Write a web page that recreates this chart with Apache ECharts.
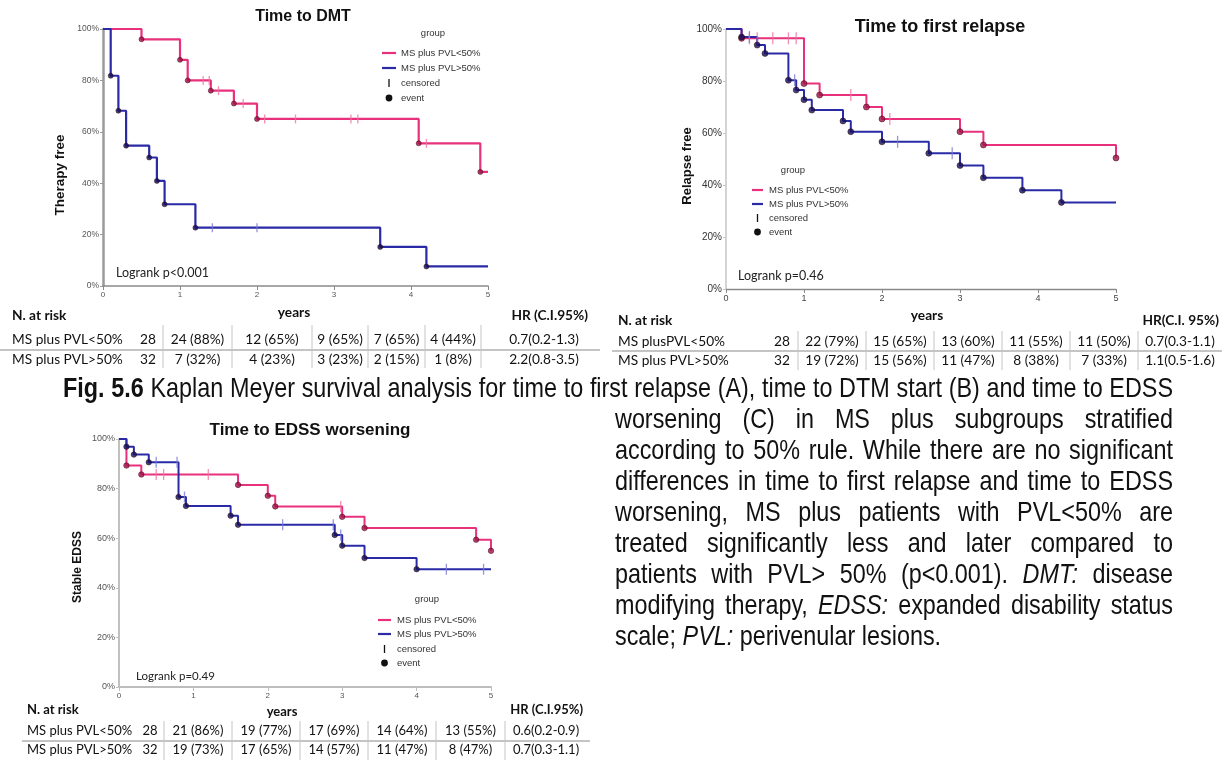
<!DOCTYPE html>
<html><head><meta charset="utf-8">
<script src="https://cdn.jsdelivr.net/npm/echarts@6/dist/echarts.min.js"></script>
<style>
html,body{margin:0;padding:0;background:#fff;}
#chart{position:absolute;left:0;top:0;width:1232px;height:760px;}
.cap{position:absolute;font-family:"Liberation Sans",Arial,sans-serif;color:#111;font-size:28.5px;transform:scaleX(0.82);transform-origin:0 0;}
.cap div{text-align:justify;text-align-last:justify;height:31px;line-height:31px;white-space:normal;}
.cap div.last{text-align-last:left;}
</style></head><body>
<div id="chart"></div>
<div class="cap" style="left:63px;top:371.5px;width:1353.7px;"><div><b>Fig. 5.6</b> Kaplan Meyer survival analysis for time to first relapse (A), time to DTM start (B) and time to EDSS</div></div>
<div class="cap" style="left:615px;top:402.5px;width:680.5px;">
<div>worsening (C) in MS plus subgroups stratified</div>
<div>according to 50% rule. While there are no significant</div>
<div>differences in time to first relapse and time to EDSS</div>
<div>worsening, MS plus patients with PVL&lt;50% are</div>
<div>treated significantly less and later compared to</div>
<div>patients with PVL&gt; 50% (p&lt;0.001). <i>DMT:</i> disease</div>
<div>modifying therapy, <i>EDSS:</i> expanded disability status</div>
<div class="last">scale; <i>PVL:</i> perivenular lesions.</div>
</div>
<script>
// ---------- DATA ----------
const groups = ['MS plus PVL<50%', 'MS plus PVL>50%'];
const xTickYears = [0, 1, 2, 3, 4, 5];

// A: Time to DMT
const dmtLowT = [0, 0.5, 1.0, 1.1, 1.4, 1.7, 2.0, 4.1, 4.9, 5.0];
const dmtLowS = [100, 96, 88, 80, 76, 71, 65, 55.5, 44.4, 44.4];
const dmtLowCens = [1.3, 1.38, 1.5, 1.82, 2.1, 2.5, 3.22, 3.31, 4.2];
const dmtHighT = [0, 0.1, 0.2, 0.3, 0.6, 0.7, 0.8, 1.2, 3.6, 4.2, 5.0];
const dmtHighS = [100, 81.8, 68.2, 54.6, 50, 40.9, 31.8, 22.7, 15.2, 7.6, 7.6];
const dmtHighCens = [1.42, 2.0];

// B: Time to first relapse
const relLowT = [0, 0.2, 1.0, 1.2, 1.8, 2.0, 3.0, 3.3, 5.0];
const relLowS = [100, 96.4, 79, 74.6, 70, 65.4, 60.5, 55.4, 50.4];
const relLowCens = [0.3, 0.4, 0.6, 0.8, 0.9, 1.6, 2.1];
const relHighT = [0, 0.2, 0.4, 0.5, 0.8, 0.9, 1.0, 1.1, 1.5, 1.6, 2.0, 2.6, 3.0, 3.3, 3.8, 4.3, 5.0];
const relHighS = [100, 96.9, 93.8, 90.6, 80.3, 76.5, 72.8, 68.8, 64.6, 60.5, 56.6, 52.2, 47.5, 42.8, 38, 33.3, 33.3];
const relHighCens = [0.3, 0.88, 2.2, 2.9];

// C: Time to EDSS worsening
const edssLowT = [0, 0.1, 0.3, 1.6, 2.0, 2.1, 3.0, 3.3, 4.8, 5.0];
const edssLowS = [100, 89.3, 85.7, 81.5, 77.1, 72.8, 68.6, 64.1, 59.4, 54.9];
const edssLowCens = [0.5, 0.6, 1.2, 2.98];
const edssHighT = [0, 0.1, 0.2, 0.4, 0.8, 0.9, 1.5, 1.6, 2.9, 3.0, 3.3, 4.0, 5.0];
const edssHighS = [100, 96.9, 93.7, 90.6, 76.6, 73, 69.1, 65.4, 61.3, 57, 52, 47.5, 47.5];
const edssHighCens = [0.5, 0.78, 0.88, 2.2, 2.88, 2.98, 4.4, 4.9];

// Risk tables
const riskA_n0 = ['28', '32'];
const riskA_low = ['24 (88%)', '12 (65%)', '9 (65%)', '7 (65%)', '4 (44%)'];
const riskA_high = ['7 (32%)', '4 (23%)', '3 (23%)', '2 (15%)', '1 (8%)'];
const riskA_hr = ['0.7(0.2-1.3)', '2.2(0.8-3.5)'];
const riskB_names = ['MS plusPVL<50%', 'MS plus PVL>50%'];
const riskB_n0 = ['28', '32'];
const riskB_low = ['22 (79%)', '15 (65%)', '13 (60%)', '11 (55%)', '11 (50%)'];
const riskB_high = ['19 (72%)', '15 (56%)', '11 (47%)', '8 (38%)', '7 (33%)'];
const riskB_hr = ['0.7(0.3-1.1)', '1.1(0.5-1.6)'];
const riskC_n0 = ['28', '32'];
const riskC_low = ['21 (86%)', '19 (77%)', '17 (69%)', '14 (64%)', '13 (55%)'];
const riskC_high = ['19 (73%)', '17 (65%)', '14 (57%)', '11 (47%)', '8 (47%)'];
const riskC_hr = ['0.6(0.2-0.9)', '0.7(0.3-1.1)'];

// ---------- STYLE ----------
const PINK = '#e8307c', BLUE = '#2a2aa6';
const PINK_C = '#ef74a4', BLUE_C = '#7b7bd6';
const PINK_D = '#a3124d', BLUE_D = '#12125c';
const SANS = 'Liberation Sans';
const TAB = 'Lato';

function survAt(t, s, x) { let v = s[0]; for (let i = 0; i < t.length; i++) if (t[i] <= x) v = s[i]; return v; }
function kmLine(name, t, s, color, idx, w) {
  return {type: 'line', name, xAxisIndex: idx, yAxisIndex: idx, step: 'end', symbol: 'none', clip: false, silent: true,
    data: t.map((x, i) => [x, s[i]]), lineStyle: {color, width: w}, z: 2};
}
function kmEvents(t, s, color, idx, size) {
  const d = [];
  for (let i = 1; i < t.length; i++) if (s[i] < s[i - 1]) d.push([t[i], s[i]]);
  return {type: 'scatter', xAxisIndex: idx, yAxisIndex: idx, data: d, symbol: 'circle', symbolSize: size, clip: false, silent: true,
    itemStyle: {color, borderColor: '#300', borderWidth: 0.6}, z: 5};
}
function kmCens(ct, t, s, color, idx, h) {
  return {type: 'scatter', xAxisIndex: idx, yAxisIndex: idx, data: ct.map(x => [x, survAt(t, s, x)]), symbol: 'rect',
    symbolSize: [1.3, h], clip: false, silent: true, itemStyle: {color}, z: 4};
}
function xAx(idx, c, w, fs, m, lc) {
  return {type: 'value', gridIndex: idx, min: 0, max: 5, interval: 1,
    axisLine: {show: true, onZero: false, lineStyle: {color: c, width: w}},
    axisTick: {show: true, length: 4, lineStyle: {color: c}},
    axisLabel: {fontSize: fs, color: lc, margin: m, fontFamily: SANS}, splitLine: {show: false}};
}
function yAx(idx, c, w, fs, lc) {
  return {type: 'value', gridIndex: idx, min: 0, max: 100, interval: 20,
    axisLine: {show: true, lineStyle: {color: c, width: w}},
    axisTick: {show: true, length: 3, lineStyle: {color: c}},
    axisLabel: {formatter: '{value}%', fontSize: fs, color: lc, margin: 4, fontFamily: SANS}, splitLine: {show: false}};
}
function T(x, y, text, o) {
  o = o || {};
  return {type: 'text', x, y, rotation: o.rot || 0, silent: true, z: 10,
    style: {text, align: o.align || 'left', verticalAlign: 'middle', fontSize: o.fs || 12,
      fontWeight: o.bold ? 'bold' : 'normal', fontFamily: o.ff || SANS, fill: o.fill || '#111'}};
}
function L(x1, y1, x2, y2, stroke, lw) {
  return {type: 'line', silent: true, z: 10, shape: {x1, y1, x2, y2}, style: {stroke, lineWidth: lw}};
}
function legend(cx, gy, lx0, lx1, tx, rows) {
  const mx = (lx0 + lx1) / 2, fs = 9.5, f = '#333';
  return [
    T(cx, gy, 'group', {align: 'center', fs, fill: f}),
    L(lx0, rows[0], lx1, rows[0], PINK, 2.2),
    L(lx0, rows[1], lx1, rows[1], BLUE, 2.2),
    L(mx, rows[2] - 4, mx, rows[2] + 4, '#111', 1.3),
    {type: 'circle', silent: true, z: 10, shape: {cx: mx, cy: rows[3], r: 3.4}, style: {fill: '#111'}},
    T(tx, rows[0], groups[0], {fs, fill: f}),
    T(tx, rows[1], groups[1], {fs, fill: f}),
    T(tx, rows[2], 'censored', {fs, fill: f}),
    T(tx, rows[3], 'event', {fs, fill: f})
  ];
}
function table(g) {
  const els = [], fs = g.fs, o = {ff: TAB, fs};
  els.push(T(g.nameX, g.headY, 'N. at risk', {ff: TAB, fs, bold: true}));
  els.push(T(g.yearsX, g.yearsY, 'years', {ff: TAB, fs, bold: true, align: 'center'}));
  els.push(T(g.hrRight, g.headY, g.hrHead, {ff: TAB, fs, bold: true, align: 'right'}));
  g.rows.forEach((row, r) => {
    const y = g.rowY[r];
    els.push(T(g.nameX, y, row.name, o));
    els.push(T(g.n0X, y, row.n0, Object.assign({align: 'center'}, o)));
    row.cells.forEach((c, i) => els.push(T((g.div[i] + g.div[i + 1]) / 2, y, c, Object.assign({align: 'center'}, o))));
    els.push(T(g.hrX, y, row.hr, Object.assign({align: 'center'}, o)));
  });
  els.push(L(g.x0, g.sepY, g.x1, g.sepY, '#b0b0b0', 1.5));
  g.div.forEach(d => els.push(L(d, g.divTop, d, g.divBot, '#c4c4c4', 1)));
  return els;
}

const graphics = [].concat(
  [
    T(303, 17, 'Time to DMT', {align: 'center', fs: 16, bold: true}),
    T(940, 27, 'Time to first relapse', {align: 'center', fs: 18, bold: true}),
    T(310, 430, 'Time to EDSS worsening', {align: 'center', fs: 17, bold: true}),
    T(60, 175, 'Therapy free', {align: 'center', fs: 13.5, bold: true, rot: Math.PI / 2}),
    T(687, 166, 'Relapse free', {align: 'center', fs: 13, bold: true, rot: Math.PI / 2}),
    T(78, 567, 'Stable EDSS', {align: 'center', fs: 12, bold: true, rot: Math.PI / 2}),
    T(116, 273, 'Logrank p<0.001', {ff: TAB, fs: 12.5, fill: '#222'}),
    T(738, 276, 'Logrank p=0.46', {ff: TAB, fs: 12.5, fill: '#222'}),
    T(136, 676, 'Logrank p=0.49', {ff: TAB, fs: 11.5, fill: '#222'})
  ],
  legend(433, 33, 382, 396, 401, [53, 68, 83, 98]),
  legend(793, 170, 752, 763, 769, [190, 204, 218, 232]),
  legend(427, 599, 378, 391, 397, [620, 634, 649, 663]),
  table({fs: 13.7, nameX: 12, headY: 316, yearsX: 294, yearsY: 313, hrRight: 588, hrHead: 'HR (C.I.95%)',
    rowY: [340, 360], n0X: 148, div: [163, 232, 312, 368, 425, 481], hrX: 544, x0: 0, x1: 600, sepY: 350, divTop: 325, divBot: 368,
    rows: [{name: groups[0], n0: riskA_n0[0], cells: riskA_low, hr: riskA_hr[0]},
           {name: groups[1], n0: riskA_n0[1], cells: riskA_high, hr: riskA_hr[1]}]}),
  table({fs: 13.7, nameX: 618, headY: 321, yearsX: 927, yearsY: 316, hrRight: 1219, hrHead: 'HR(C.I. 95%)',
    rowY: [342, 361], n0X: 782, div: [798, 866, 934, 1002, 1070, 1138], hrX: 1180, x0: 612, x1: 1222, sepY: 351, divTop: 331, divBot: 370,
    rows: [{name: riskB_names[0], n0: riskB_n0[0], cells: riskB_low, hr: riskB_hr[0]},
           {name: riskB_names[1], n0: riskB_n0[1], cells: riskB_high, hr: riskB_hr[1]}]}),
  table({fs: 13, nameX: 27, headY: 710, yearsX: 282, yearsY: 712, hrRight: 583, hrHead: 'HR (C.I.95%)',
    rowY: [731, 750], n0X: 150, div: [164, 232, 300, 368, 436, 505], hrX: 546, x0: 22, x1: 590, sepY: 741, divTop: 721, divBot: 760,
    rows: [{name: groups[0], n0: riskC_n0[0], cells: riskC_low, hr: riskC_hr[0]},
           {name: groups[1], n0: riskC_n0[1], cells: riskC_high, hr: riskC_hr[1]}]})
);

const option = {
  animation: false,
  backgroundColor: '#fff',
  grid: [
    {left: 103, top: 29, width: 385, height: 257},
    {left: 726, top: 29, width: 390, height: 260},
    {left: 119, top: 439, width: 372, height: 248}
  ],
  xAxis: [xAx(0, '#8a8a8a', 1.6, 8, 5, '#555'), xAx(1, '#8a8a8a', 1.3, 9, 5, '#444'), xAx(2, '#bdbdbd', 2, 8, 5, '#555')],
  yAxis: [yAx(0, '#9a9a9a', 2.5, 8.5, '#555'), yAx(1, '#c6c6c6', 1.5, 10, '#333'), yAx(2, '#c0c0c0', 2, 9, '#555')],
  series: [
    kmLine(groups[0], dmtLowT, dmtLowS, PINK, 0, 2.2),
    kmLine(groups[1], dmtHighT, dmtHighS, BLUE, 0, 2.2),
    kmCens(dmtLowCens, dmtLowT, dmtLowS, PINK_C, 0, 9),
    kmCens(dmtHighCens, dmtHighT, dmtHighS, BLUE_C, 0, 9),
    kmEvents(dmtLowT, dmtLowS, PINK_D, 0, 5),
    kmEvents(dmtHighT, dmtHighS, BLUE_D, 0, 5),

    kmLine(groups[0], relLowT, relLowS, PINK, 1, 2),
    kmLine(groups[1], relHighT, relHighS, BLUE, 1, 2),
    kmCens(relLowCens, relLowT, relLowS, PINK_C, 1, 12),
    kmCens(relHighCens, relHighT, relHighS, BLUE_C, 1, 12),
    kmEvents(relLowT, relLowS, PINK_D, 1, 6),
    kmEvents(relHighT, relHighS, BLUE_D, 1, 6),

    kmLine(groups[0], edssLowT, edssLowS, PINK, 2, 2),
    kmLine(groups[1], edssHighT, edssHighS, BLUE, 2, 2),
    kmCens(edssLowCens, edssLowT, edssLowS, PINK_C, 2, 11),
    kmCens(edssHighCens, edssHighT, edssHighS, BLUE_C, 2, 11),
    kmEvents(edssLowT, edssLowS, PINK_D, 2, 5.5),
    kmEvents(edssHighT, edssHighS, BLUE_D, 2, 5.5)
  ],
  graphic: {elements: graphics}
};
const chart = echarts.init(document.getElementById('chart'));
chart.setOption(option);
</script>
</body></html>
